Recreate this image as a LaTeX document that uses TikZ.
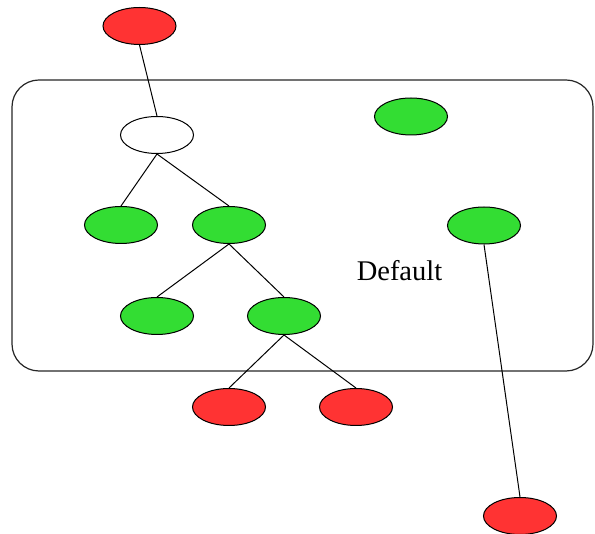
\documentclass[tikz,border=0pt]{standalone}
\usepackage{fontspec}
\setmainfont{Liberation Serif}
\usetikzlibrary{shapes.geometric}
\definecolor{nred}{RGB}{255,51,51}
\definecolor{ngreen}{RGB}{51,221,51}
\tikzset{
  nd/.style={ellipse, draw=black, line width=1pt, minimum width=73pt, minimum height=37pt, inner sep=0pt},
  rn/.style={nd, fill=nred},
  gn/.style={nd, fill=ngreen},
  wn/.style={nd, fill=white},
  ed/.style={draw=black, line width=1pt},
  cluster/.style={draw=black!85, line width=1.2pt, rounded corners=27pt}
}
\begin{document}
\begin{tikzpicture}[x=1pt,y=-1pt]
\useasboundingbox (0,0) rectangle (595,534);
\draw[cluster] (12,80) rectangle (593,371);
\node[font=\fontsize{28.5}{34}\selectfont] (lbl) at (399.5,271) {Default};
\node[rn] (r1) at (139.5,26) {};
\node[wn] (w) at (157,135) {};
\node[gn] (g1) at (411,116.5) {};
\node[gn] (g2) at (121,225) {};
\node[gn] (g3) at (229,225) {};
\node[gn] (g4) at (484,225.5) {};
\node[gn] (g5) at (157,316) {};
\node[gn] (g6) at (284,316) {};
\node[rn] (r2) at (229,407) {};
\node[rn] (r3) at (356,407) {};
\node[rn] (r4) at (520,516) {};
\draw[ed] (r1.south) -- (w.north);
\draw[ed] (w.south) -- (g2.north);
\draw[ed] (w.south) -- (g3.north);
\draw[ed] (g3.south) -- (g5.north);
\draw[ed] (g3.south) -- (g6.north);
\draw[ed] (g6.south) -- (r2.north);
\draw[ed] (g6.south) -- (r3.north);
\draw[ed] (g4.south) -- (r4.north);
\end{tikzpicture}
\end{document}
